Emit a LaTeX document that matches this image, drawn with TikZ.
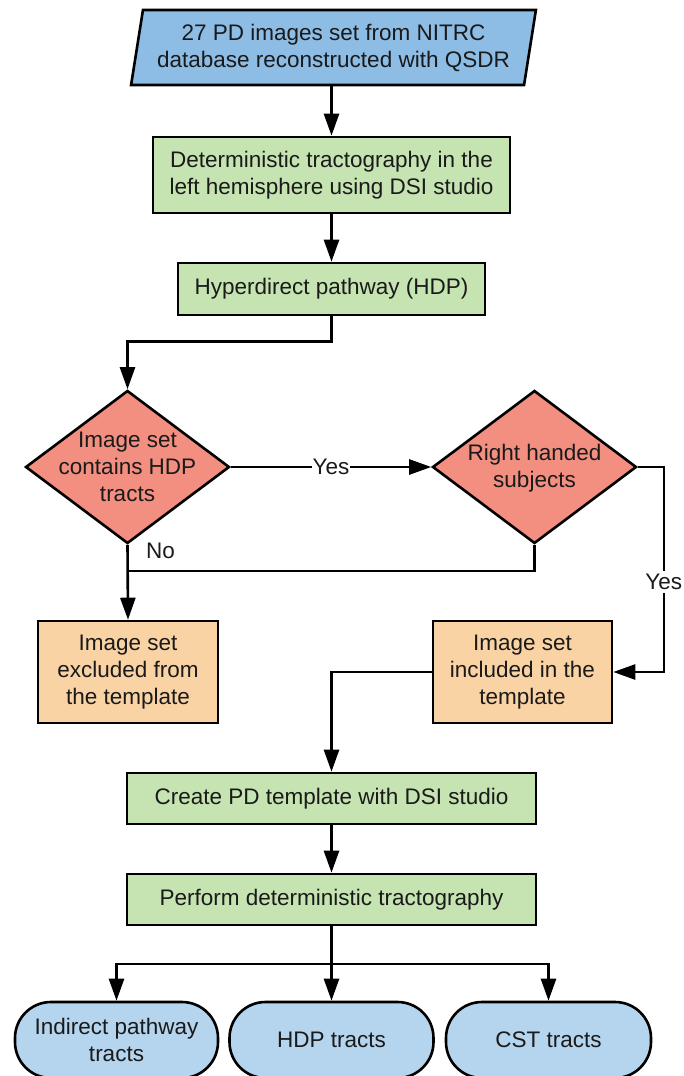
\documentclass[tikz,border=0pt]{standalone}
\usepackage{fontspec}
\setmainfont{Liberation Sans}
\usetikzlibrary{shapes.geometric,arrows.meta}
\definecolor{cpara}{HTML}{8DBCE5}
\definecolor{coval}{HTML}{B5D5EF}
\definecolor{cgreen}{HTML}{C5E4B1}
\definecolor{cred}{HTML}{F38F80}
\definecolor{corange}{HTML}{FAD3A4}
\definecolor{ctext}{HTML}{1A1A1A}
\begin{document}
\begin{tikzpicture}[x=1pt,y=-1pt,
  font=\fontsize{22.5}{27}\selectfont,
  shp/.style={draw=black, line width=2.6pt, align=center, inner sep=0pt, text=ctext},
  para/.style={shp, fill=cpara, trapezium, trapezium left angle=77, trapezium right angle=103,
    trapezium stretches=true, minimum width=407pt, minimum height=75pt},
  greenbox/.style={shp, fill=cgreen, rectangle},
  orangebox/.style={shp, fill=corange, rectangle},
  dia/.style={shp, fill=cred, diamond, minimum width=204pt, minimum height=153pt},
  oval/.style={shp, fill=coval, rectangle, rounded corners=36pt, minimum width=204pt, minimum height=76pt},
  lbl/.style={text=ctext, align=center, inner sep=0pt},
  conn/.style={line width=2.6pt, -{Triangle[width=15pt,length=22pt]}},
  plain/.style={line width=2.6pt},
]
\useasboundingbox (0,0) rectangle (683,1076);

\node[para] (src) at (333.5,47.5) {27 PD images set from NITRC\\database reconstructed with QSDR};
\node[greenbox, minimum width=357pt, minimum height=76pt] (b2) at (331.5,175) {Deterministic tractography in the\\left hemisphere using DSI studio};
\node[greenbox, minimum width=307pt, minimum height=52pt] (b3) at (331.5,289) {Hyperdirect pathway (HDP)};

\node[dia] (d1) at (127.5,467) {};
\node[lbl] (d1t) at (127.5,467) {Image set\\contains HDP\\tracts};
\node[dia] (d2) at (534.5,467) {};
\node[lbl] (d2t) at (534.5,468) {Right handed\\subjects};

\node[orangebox, minimum width=180pt, minimum height=102pt] (excl) at (128,672) {Image set\\excluded from\\the template};
\node[orangebox, minimum width=179pt, minimum height=102pt] (incl) at (522.5,672) {Image set\\included in the\\template};

\node[greenbox, minimum width=409pt, minimum height=51pt] (create) at (331.5,798.5) {Create PD template with DSI studio};
\node[greenbox, minimum width=409pt, minimum height=51pt] (perform) at (331.5,899.5) {Perform deterministic tractography};

\node[oval, minimum width=203pt] (o1) at (116.5,1040) {Indirect pathway\\tracts};
\node[oval] (o2) at (331.5,1040) {HDP tracts};
\node[oval, minimum width=205pt] (o3) at (548.5,1040) {CST tracts};

% connectors
\draw[conn] (src.south -| b2.north) -- (b2.north);
\draw[conn] (b2.south) -- (b3.north);
\draw[conn] (b3.south) -- ++(0,25) -| (d1.north);
\draw[conn] (d1.east) -- node[lbl, fill=white, inner xsep=1pt] (yes1) {Yes} (d2.west);
\draw[conn] (d1.south) -- (excl.north);
\node[lbl, anchor=west] (no) at (146,551) {No};
\coordinate (join) at (127.5,571);
\draw[plain] (d2.south) |- (join);
\draw[conn] (d2.east) -- ++(26,0) |- node[pos=0.28, lbl, fill=white, inner ysep=3pt] (yes2) {Yes} (incl.east);
\draw[conn] (incl.west) -| (create.north);
\draw[conn] (create.south) -- (perform.north);
\coordinate (branch) at (331.5,964);
\draw[plain] (perform.south) -- (branch);
\draw[conn] (branch) -| (o1.north);
\draw[conn] (branch) -- (o2.north);
\draw[conn] (branch) -| (o3.north);
\end{tikzpicture}
\end{document}
